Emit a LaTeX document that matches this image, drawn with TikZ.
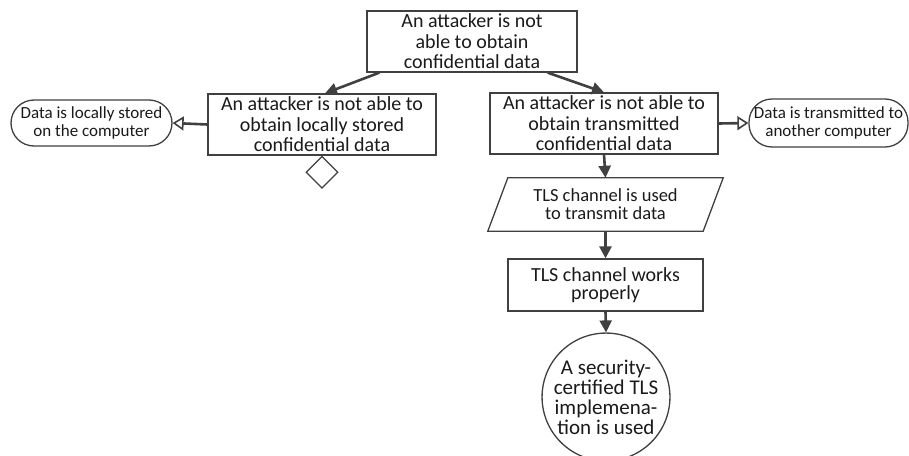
\documentclass[tikz,border=0pt]{standalone}
\usepackage{fontspec}
\setmainfont{Carlito}
\usetikzlibrary{shapes.geometric,arrows.meta,calc}
\definecolor{linec}{HTML}{404040}
\definecolor{textc}{HTML}{1A1A1A}
\begin{document}
\begin{tikzpicture}[x=1pt,y=-1pt,
  goalbox/.style={draw=linec, line width=1.3pt, fill=white, align=center,
    inner sep=0pt, text=textc, font=\fontsize{20}{20.5}\selectfont},
  ctxbox/.style={draw=linec, line width=1.3pt, fill=white, align=center,
    rounded corners=23pt, inner sep=0pt, text=textc,
    font=\fontsize{17}{17.5}\selectfont},
  stratnode/.style={align=center, inner sep=0pt, text=textc,
    font=\fontsize{18.5}{18}\selectfont},
  solnode/.style={circle, draw=linec, line width=1.3pt, fill=white, align=center,
    inner sep=0pt, text=textc, font=\fontsize{21}{20}\selectfont},
  supported/.style={draw=linec, line width=2.6pt,
    -{Triangle[length=12pt,width=12pt]}},
  incontext/.style={draw=linec, line width=2.6pt,
    -{Triangle[open,length=11pt,width=14pt,line width=1.6pt,fill=white]}},
]
\useasboundingbox (0,0) rectangle (909,455);

% goals
\node[goalbox, minimum width=210pt, minimum height=61pt] (top) at (472,41.5)
  {An attacker is not\\able to obtain\\confidential data};
\node[goalbox, minimum width=228pt, minimum height=61pt] (lgoal) at (322,124.5)
  {An attacker is not able to\\obtain locally stored\\confidential data};
\node[goalbox, minimum width=228pt, minimum height=61pt] (rgoal) at (604,123.5)
  {An attacker is not able to\\obtain transmitted\\confidential data};
\node[goalbox, minimum width=195pt, minimum height=52pt,
  font=\fontsize{20}{18.5}\selectfont] (works) at (605.5,285)
  {TLS channel works\\properly};

% contexts
\node[ctxbox, minimum width=161pt, minimum height=46pt] (lctx) at (91.5,123)
  {Data is locally stored\\on the computer};
\node[ctxbox, minimum width=159pt, minimum height=48pt] (rctx) at (828.5,123)
  {Data is transmitted to\\another computer};

% strategy (parallelogram)
\node[stratnode, minimum width=235pt, minimum height=53pt] (strat) at (605.5,204.5)
  {TLS channel is used\\to transmit data};
\draw[linec, line width=1.3pt] (strat.south west) -- ([xshift=20pt]strat.north west)
  -- (strat.north east) -- ([xshift=-20pt]strat.south east) -- cycle;

% undeveloped marker
\node[diamond, draw=linec, line width=1.3pt, fill=white, aspect=1,
  minimum width=32pt, minimum height=32pt, inner sep=0pt, anchor=north]
  (undev) at (lgoal.south) {};

% solution
\node[solnode, minimum size=116pt] (sol) at (606,397)
  {A security-\\certified TLS\\implemena-\\tion is used};

% connectors
\draw[supported] ($(top.south west)+(13,0)$) -- ($(lgoal.north)+(3,0)$);
\draw[supported] ($(top.south east)+(-30,0)$) -- (rgoal.north);
\draw[supported] (rgoal.south) -- (strat.north);
\draw[supported] (strat.south) -- (works.north);
\draw[supported] (works.south) -- (sol.north);
\draw[incontext] (lgoal.west) -- (lctx.east);
\draw[incontext] (rgoal.east) -- (rctx.west);
\end{tikzpicture}
\end{document}
